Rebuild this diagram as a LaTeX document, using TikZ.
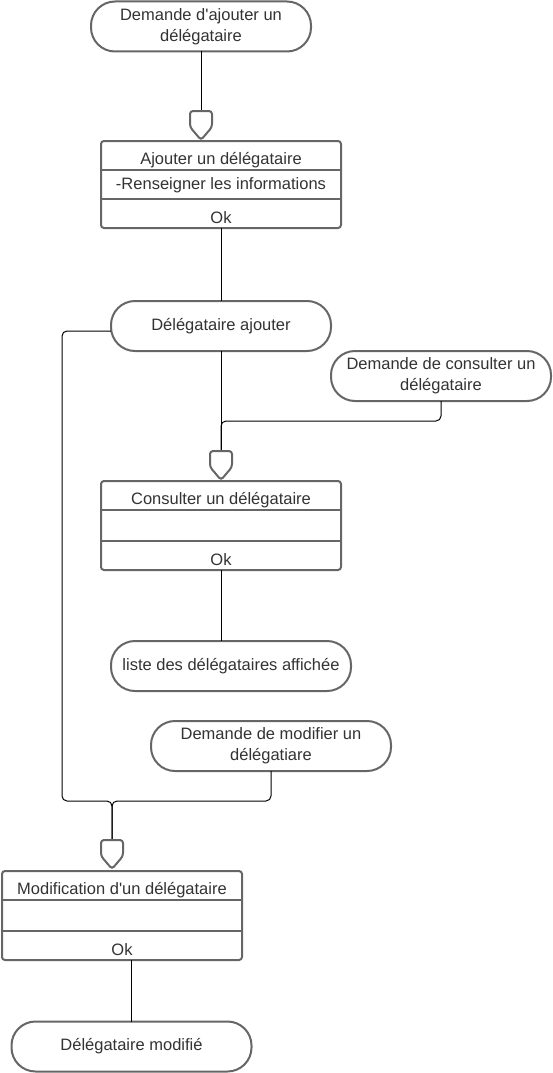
\documentclass[tikz,border=0pt]{standalone}
\usepackage{fontspec}
\setmainfont{Liberation Sans}
\usepackage{xcolor}
\usepackage{tikz}

\definecolor{edge}{HTML}{666666}
\definecolor{ink}{HTML}{333333}

\begin{document}
\begin{tikzpicture}[
    x=1pt, y=-1pt,
    font=\fontsize{16.5}{21}\selectfont,
    terminal/.style={draw=edge, line width=2pt, rounded corners=24pt, text=ink,
      align=center, minimum height=50pt, inner sep=0pt, outer sep=0pt},
    formbox/.style={draw=edge, line width=2pt, rounded corners=3pt,
      minimum width=240pt, inner sep=0pt, outer sep=0pt},
    rowtext/.style={text=ink, inner sep=0pt},
    wire/.style={draw=black, line width=1pt, rounded corners=5pt},
    shield/.pic={
      \draw[edge, line width=2pt, rounded corners=3pt, fill=white]
        (0,29) -- (-11,16) -- (-11,0) -- (11,0) -- (11,16) -- cycle;
    },
  ]
  \useasboundingbox (0,0) rectangle (553,1073);

  % ajout
  \node[terminal, minimum width=220pt] (req add) at (201,26.5)
    {Demande d\textquotesingle ajouter un\\d\'el\'egataire};
  \coordinate (add in) at (201,111);
  \node[formbox, minimum height=87pt] (add box) at (221,184.5) {};
  \draw[edge, line width=2pt] ([yshift=-29pt]add box.north west) -- ([yshift=-29pt]add box.north east);
  \draw[edge, line width=2pt] ([yshift=29pt]add box.south west) -- ([yshift=29pt]add box.south east);
  \node[rowtext] (add title) at (221,160) {Ajouter un d\'el\'egataire};
  \node[rowtext] (add info) at (221,185) {-Renseigner les informations};
  \node[rowtext] (add ok) at (221,218) {Ok};
  \node[terminal, minimum width=220pt] (done add) at (221,326) {D\'el\'egataire ajouter};

  % consultation
  \node[terminal, minimum width=220pt] (req view) at (441,376)
    {Demande de consulter un\\d\'el\'egataire};
  \coordinate (view in) at (221,451);
  \node[formbox, minimum height=89pt] (view box) at (221,525.5) {};
  \draw[edge, line width=2pt] ([yshift=-29pt]view box.north west) -- ([yshift=-29pt]view box.north east);
  \draw[edge, line width=2pt] ([yshift=29pt]view box.south west) -- ([yshift=29pt]view box.south east);
  \node[rowtext] (view title) at (221,500) {Consulter un d\'el\'egataire};
  \node[rowtext] (view ok) at (221,560) {Ok};
  \node[terminal, minimum width=240pt] (list view) at (231,666) {liste des d\'el\'egataires affich\'ee};

  % modification
  \node[terminal, minimum width=240pt] (req edit) at (271,746)
    {Demande de modifier un\\d\'el\'egatiare};
  \coordinate (edit in) at (112,840);
  \node[formbox, minimum height=89pt] (edit box) at (122,915.5) {};
  \draw[edge, line width=2pt] ([yshift=-29pt]edit box.north west) -- ([yshift=-29pt]edit box.north east);
  \draw[edge, line width=2pt] ([yshift=29pt]edit box.south west) -- ([yshift=29pt]edit box.south east);
  \node[rowtext] (edit title) at (122,890) {Modification d\textquotesingle un d\'el\'egataire};
  \node[rowtext] (edit ok) at (122,950) {Ok};
  \node[terminal, minimum width=240pt] (done edit) at (131.5,1046.5) {D\'el\'egataire modifi\'e};

  % liaisons
  \draw[wire] (req add.south) -- (add in);
  \draw[wire] (add box.south) -- (done add.north);
  \draw[wire] (done add.south) -- (view in);
  \draw[wire] (req view.south) -- ++(0,20) -| (view in);
  \draw[wire] (view box.south) -- (view box.south |- list view.north);
  \draw[wire] (req edit.south) -- ++(0,30) -| (edit in);
  \draw[wire] ([yshift=-5pt]done add.west) -- ++(-49,0) -- ++(0,470) -| (edit in);
  \draw[wire] (done edit.north |- edit box.south) -- (done edit.north);

  \pic at (add in) {shield};
  \pic at (view in) {shield};
  \pic at (edit in) {shield};
\end{tikzpicture}
\end{document}
